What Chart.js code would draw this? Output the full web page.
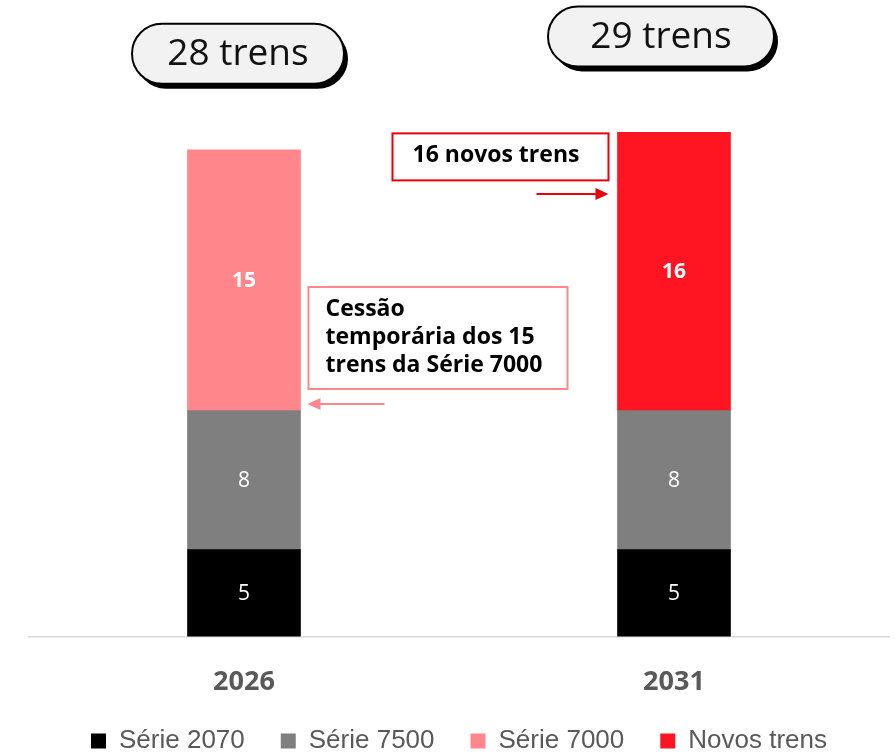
<!DOCTYPE html>
<html>
<head>
<meta charset="utf-8">
<script src="https://cdn.jsdelivr.net/npm/chart.js@4.4.1/dist/chart.umd.min.js"></script>
<style>
  body { margin: 0; background: #fff; }
  #wrap { width: 895px; height: 754px; }
</style>
</head>
<body>
<div id="wrap"><canvas id="myChart"></canvas></div>
<script>
// dados
const anos = ['2026', '2031'];
const serie2070 = [5, 5];
const serie7500 = [8, 8];
const serie7000 = [15, null];
const novosTrens = [null, 16];
const totais = ['28 trens', '29 trens'];

const cores = {
    s2070: '#000000',
    s7500: '#7f7f7f',
    s7000: '#ff868b',
    novos: '#ff1522',
};

// rotulos dentro das barras
const rotulosBarras = {
    id: 'rotulosBarras',
    afterDatasetsDraw(chart) {
        const ctx = chart.ctx;
        ctx.save();
        ctx.fillStyle = '#fff';
        ctx.textAlign = 'center';
        ctx.textBaseline = 'middle';
        chart.data.datasets.forEach((ds, i) => {
            const meta = chart.getDatasetMeta(i);
            meta.data.forEach((bar, j) => {
                const v = ds.data[j];
                if (v == null) return;
                const negrito = i >= 2;
                ctx.font = (negrito ? '700 ' : '400 ') + '21px "Open Sans"';
                ctx.fillText(String(v), bar.x, (bar.y + bar.base) / 2 + 1);
            });
        });
        ctx.restore();
    }
};

function pill(ctx, x, y, w, h) {
    const r = h / 2;
    ctx.beginPath();
    ctx.moveTo(x + r, y);
    ctx.lineTo(x + w - r, y);
    ctx.arc(x + w - r, y + r, r, -Math.PI / 2, Math.PI / 2);
    ctx.lineTo(x + r, y + h);
    ctx.arc(x + r, y + r, r, Math.PI / 2, Math.PI * 1.5);
    ctx.closePath();
}

function seta(ctx, x1, x2, y, cor) {
    const dir = x2 > x1 ? 1 : -1;
    ctx.strokeStyle = cor;
    ctx.fillStyle = cor;
    ctx.lineWidth = 2;
    ctx.beginPath();
    ctx.moveTo(x1, y);
    ctx.lineTo(x2 - dir * 12, y);
    ctx.stroke();
    ctx.beginPath();
    ctx.moveTo(x2, y);
    ctx.lineTo(x2 - dir * 13, y - 6);
    ctx.lineTo(x2 - dir * 13, y + 6);
    ctx.closePath();
    ctx.fill();
}

// anotacoes: totais e caixas de texto
const anotacoes = {
    id: 'anotacoes',
    afterDraw(chart) {
        const ctx = chart.ctx;
        const barras0 = chart.getDatasetMeta(2).data[0];
        const barras1 = chart.getDatasetMeta(3).data[1];
        const dx = [-6, -13];
        const larg = [212, 226];
        ctx.save();
        [barras0, barras1].forEach((b, i) => {
            const w = larg[i], h = 60;
            const px = b.x + dx[i] - w / 2;
            const py = b.y - 66 - h;
            ctx.fillStyle = '#000';
            pill(ctx, px + 4, py + 5, w, h);
            ctx.fill();
            ctx.fillStyle = '#f2f2f2';
            pill(ctx, px, py, w, h);
            ctx.fill();
            ctx.lineWidth = 2;
            ctx.strokeStyle = '#000';
            ctx.stroke();
            ctx.fillStyle = '#111';
            ctx.font = '400 37px "Open Sans"';
            ctx.textAlign = 'center';
            ctx.textBaseline = 'middle';
            ctx.fillText(totais[i], px + w / 2, py + h / 2 + 1);
        });

        // caixa cessao
        const dir0 = barras0.x + barras0.width / 2;
        ctx.strokeStyle = cores.s7000;
        ctx.lineWidth = 2;
        ctx.strokeRect(dir0 + 8, 287, 259, 102);
        ctx.fillStyle = '#000';
        ctx.font = '700 23px "Open Sans"';
        ctx.textAlign = 'left';
        ctx.textBaseline = 'middle';
        ['Cessão', 'temporária dos 15', 'trens da Série 7000'].forEach((t, k) => {
            ctx.fillText(t, dir0 + 25, 309 + k * 28);
        });
        seta(ctx, dir0 + 84, dir0 + 7, 404, cores.s7000);

        // caixa novos trens
        const esq1 = barras1.x - barras1.width / 2;
        ctx.strokeStyle = '#e8000b';
        ctx.strokeRect(esq1 - 225, barras1.y + 1, 216, 47);
        ctx.fillStyle = '#000';
        ctx.fillText('16 novos trens', esq1 - 205, barras1.y + 23);
        seta(ctx, esq1 - 81, esq1 - 9, 194, '#e8000b');
        ctx.restore();
    }
};

const myChart = document.getElementById('myChart');
const canvasContext = myChart.getContext('2d');

new Chart(canvasContext, {
    type: 'bar',
    data: {
        labels: anos,
        datasets: [
            { label: 'Série 2070', data: serie2070, backgroundColor: cores.s2070 },
            { label: 'Série 7500', data: serie7500, backgroundColor: cores.s7500 },
            { label: 'Série 7000', data: serie7000, backgroundColor: cores.s7000 },
            { label: 'Novos trens', data: novosTrens, backgroundColor: cores.novos },
        ]
    },
    options: {
        responsive: true,
        maintainAspectRatio: false,
        animation: false,
        barThickness: 113,
        layout: { padding: { top: 115, left: 29, right: 6, bottom: -10 } },
        scales: {
            x: {
                stacked: true,
                grid: { display: false, drawTicks: true, tickLength: 36 },
                border: { color: '#d9d9d9', width: 1.5 },
                ticks: {
                    color: '#595959',
                    padding: 7,
                    font: { family: '"Open Sans"', size: 27, weight: '700', lineHeight: 0.2 }
                }
            },
            y: {
                stacked: true,
                display: false,
                min: 0,
                max: 30
            }
        },
        plugins: {
            legend: {
                position: 'bottom',
                labels: {
                    boxWidth: 15,
                    boxHeight: 15,
                    padding: 36,
                    color: '#595959',
                    font: { family: '"Liberation Sans", Arial', size: 26 }
                }
            },
            tooltip: { enabled: false }
        }
    },
    plugins: [rotulosBarras, anotacoes]
});
</script>
</body>
</html>
